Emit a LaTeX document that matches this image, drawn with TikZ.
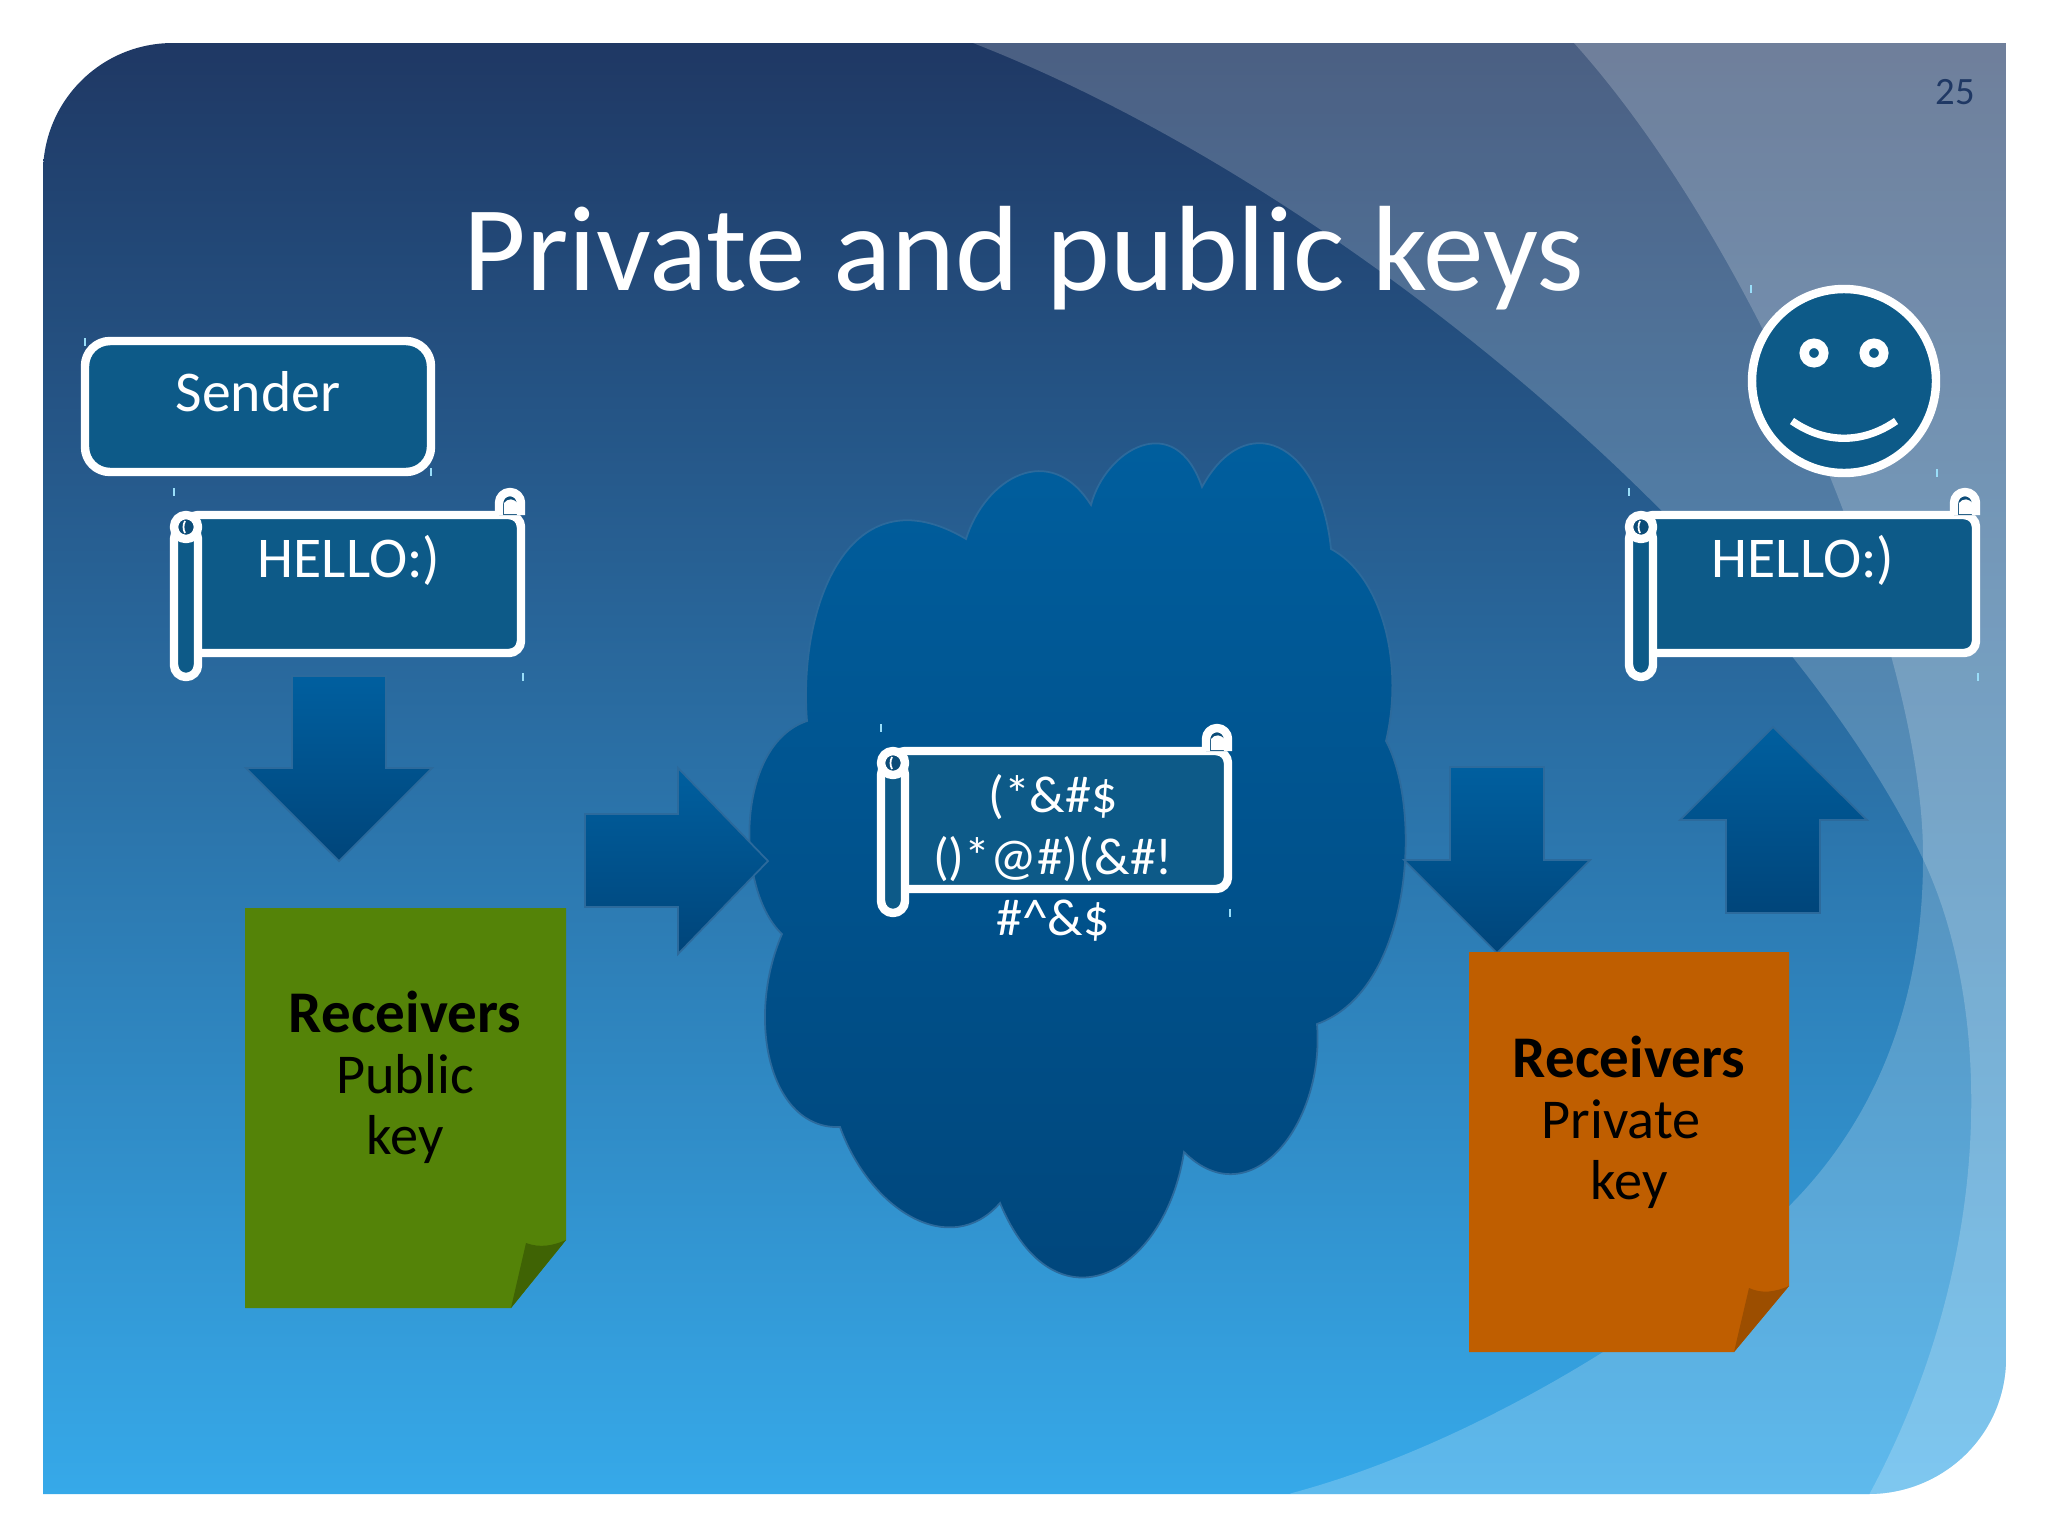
\documentclass[tikz,border=0pt]{standalone}
\usepackage{fontspec}
\setmainfont{Carlito}
\definecolor{slidetop}{HTML}{1F3864}
\definecolor{slidebot}{HTML}{36A9E9}
\definecolor{boxblue}{HTML}{0D5A88}
\definecolor{holeblue}{HTML}{0C4C78}
\definecolor{shapetop}{HTML}{005F9F}
\definecolor{shapebot}{HTML}{00457A}
\definecolor{shapeedge}{HTML}{2C6A9C}
\definecolor{notegreen}{HTML}{548308}
\definecolor{foldgreen}{HTML}{3F6304}
\definecolor{noteorange}{HTML}{BF5E00}
\definecolor{foldorange}{HTML}{9C4E00}
\tikzset{
  swoosh/.style={fill=white, fill opacity=0.2},
  whiteline/.style={draw=white, line width=2.4pt, line join=round},
  scrolltick/.style={draw=white!60!cyan, line width=0.3pt},
  blockarrow/.style={top color=shapetop, bottom color=shapebot, draw=shapeedge, line width=0.5pt, line join=miter},
  boxtext/.style={white, font=\fontsize{16.4}{17.4}\selectfont, align=center},
  ciphertext/.style={white, font=\fontsize{14.8}{17.4}\selectfont, align=center},
  notetext/.style={black, font=\fontsize{16}{17.4}\selectfont, align=center},
  pics/scroll/.style={code={
    \draw[whiteline, fill=boxblue, rounded corners=0.12cm] (16,4) -- (351,4) -- (351,142) -- (16,142) -- cycle;
    \draw[whiteline, fill=holeblue, rounded corners=0.11cm] (329,4) -- (329,-19) -- (351,-19) -- (351,4);
    \fill[white] (334,-8) .. controls (338,-13) and (344,-13) .. (348,-7) -- (348,3) -- (334,3) -- cycle;
    \draw[whiteline, fill=boxblue, rounded corners=0.12cm] (4,16) -- (28,16) -- (28,166) -- (4,166) -- cycle;
    \draw[whiteline, fill=holeblue] (16,16) circle (12);
    \draw[white, line width=0.5pt] (15,10) .. controls (13,14) and (13,18) .. (15,22);
    \draw[scrolltick] (4,-23) -- (4,-15);
    \draw[scrolltick] (353,162) -- (353,170);
  }}
}

\begin{document}
\begin{tikzpicture}[x=0.01cm, y=-0.01cm]
  \useasboundingbox (0,0) rectangle (2048,1536);
  \fill[white] (0,0) rectangle (2048,1536);
  % slide background
  \begin{scope}
    \clip (43,173) .. controls (43,101) and (101,43) .. (173,43) -- (2006,43) -- (2006,1358)
      .. controls (2006,1434) and (1944,1494) .. (1868,1494) -- (43,1494) -- cycle;
    \shade[top color=slidetop, bottom color=slidebot] (43,43) rectangle (2006,1494);
    \fill[swoosh] (973,43) .. controls (1350,190) and (1780,560) .. (1923,859)
      .. controls (1990,1000) and (2000,1250) .. (1870,1493)
      -- (1855,1530) -- (2100,1530) -- (2100,43) -- cycle;
    \fill[swoosh] (1574,43) .. controls (1760,250) and (1925,650) .. (1923,859)
      .. controls (1923,1010) and (1870,1130) .. (1780,1215)
      .. controls (1700,1300) and (1490,1440) .. (1292,1493)
      -- (1200,1530) -- (2100,1530) -- (2100,43) -- cycle;
  \end{scope}

  \node[white, font=\fontsize{34.5}{36}\selectfont] (title) at (1024,258) {Private and public keys};
  \node[slidetop, font=\fontsize{11}{12}\selectfont] (pagenum) at (1955,92) {25};

  % cloud
  \path[top color=shapetop, bottom color=shapebot, draw=shapeedge, line width=0.5pt] (966,539)
    .. controls (985,478) and (1050,440) .. (1091,505)
    .. controls (1105,450) and (1175,408) .. (1202,487)
    .. controls (1245,408) and (1320,440) .. (1331,549)
    .. controls (1380,575) and (1405,660) .. (1386,741)
    .. controls (1423,810) and (1412,990) .. (1317,1024)
    .. controls (1325,1125) and (1250,1218) .. (1184,1152)
    .. controls (1165,1275) and (1055,1335) .. (1000,1203)
    .. controls (950,1260) and (870,1210) .. (840,1127)
    .. controls (770,1130) and (745,1020) .. (782,934)
    .. controls (735,890) and (735,745) .. (807,721)
    .. controls (798,605) and (850,470) .. (966,539) -- cycle;

  % block arrows
  \path[blockarrow] (292,676) -- (386,676) -- (386,768) -- (432,768) -- (339,861) -- (246,768) -- (292,768) -- cycle;
  \path[blockarrow] (585,814) -- (678,814) -- (678,768) -- (768,861) -- (678,954) -- (678,907) -- (585,907) -- cycle;
  \path[blockarrow] (1450,767) -- (1544,767) -- (1544,860) -- (1590,860) -- (1497,953) -- (1404,860) -- (1450,860) -- cycle;
  \path[blockarrow] (1773,727) -- (1867,820) -- (1820,820) -- (1820,913) -- (1726,913) -- (1726,820) -- (1680,820) -- cycle;

  % sender
  \draw[whiteline, fill=boxblue, rounded corners=0.25cm] (85,341) rectangle (431,472);
  \draw[scrolltick] (85,338) -- (85,346);
  \draw[scrolltick] (431,468) -- (431,476);
  \node[boxtext] (sender) at (258,392) {Sender};

  % scrolls
  \pic at (170,511) {scroll};
  \pic at (877,747) {scroll};
  \pic at (1625,511) {scroll};
  \node[boxtext] (hello1) at (349,560) {HELLO:)};
  \node[boxtext] (hello2) at (1803,560) {HELLO:)};
  \node[ciphertext] (cipher) at (1053,858) {(*\&\#\$\\()*@\#)(\&\#!\\\#\^{}\&\$};

  % smiley
  \draw[whiteline, fill=boxblue] (1844,381) circle (92);
  \foreach \ex in {1814,1874}{
    \draw[white, line width=2.7pt, fill=boxblue] (\ex,353) circle (9.75);
  }
  \draw[white, line width=2.1pt] (1792,421) .. controls (1825,444) and (1863,444) .. (1896,421);
  \draw[scrolltick] (1751,285) -- (1751,293);
  \draw[scrolltick] (1937,469) -- (1937,477);

  % notes
  \fill[notegreen] (245,908) -- (566,908) -- (566,1240) -- (511,1308) -- (245,1308) -- cycle;
  \fill[foldgreen] (511,1308) -- (526,1243) .. controls (540,1248) and (552,1246) .. (566,1240) -- cycle;
  \node[notetext] (pubkey) at (405,1077) {{\fontsize{16.8}{17.4}\selectfont\bfseries Receivers}\\Public\\key};
  \fill[noteorange] (1469,952) -- (1789,952) -- (1789,1286) -- (1734,1352) -- (1469,1352) -- cycle;
  \fill[foldorange] (1734,1352) -- (1749,1288) .. controls (1762,1294) and (1775,1292) .. (1789,1286) -- cycle;
  \node[notetext] (privkey) at (1629,1122) {{\fontsize{16.8}{17.4}\selectfont\bfseries Receivers}\\Private\hspace*{4.5pt}\null\\key};
\end{tikzpicture}
\end{document}
